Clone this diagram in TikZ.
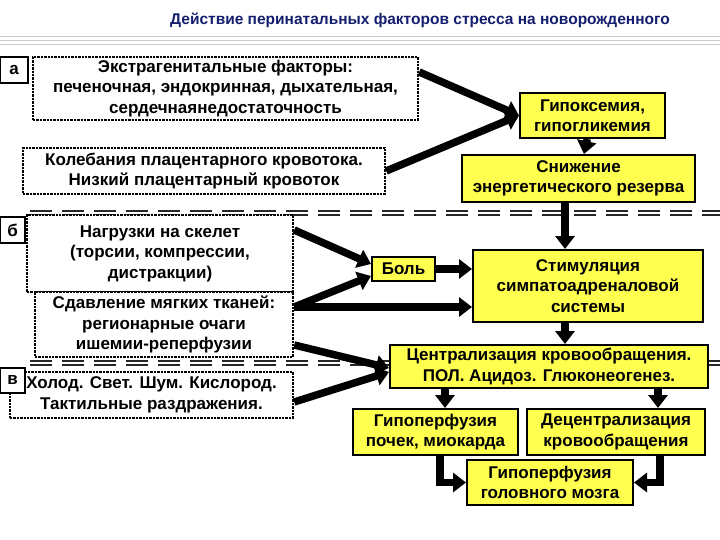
\documentclass[tikz,border=0pt]{standalone}
\usepackage{fontspec}
\setmainfont{Liberation Sans}
\usetikzlibrary{arrows.meta}
\definecolor{yel}{RGB}{255,255,80}
\definecolor{ttl}{RGB}{20,30,110}
\begin{document}
\begin{tikzpicture}[x=1pt,y=-1pt,
  fnt/.style={font=\bfseries\fontsize{17}{20.5}\selectfont},
  src/.style={draw,densely dotted,line width=2.4pt,fill=white,align=center,fnt,inner sep=0},
  res/.style={draw,line width=2pt,fill=yel,align=center,fnt,inner sep=0},
  lab/.style={draw,line width=1.6pt,fill=white,fnt,inner sep=0},
  arr/.style={line width=7.5pt,-{Triangle[length=13pt,width=19pt]}},
  sep/.style={double=white,double distance=2.5pt,line width=2pt,draw=black!85,dash pattern=on 22pt off 10pt}]
\useasboundingbox (0,0) rectangle (720,540);
\draw[gray!40,line width=0.8pt] (0,36)--(720,36) (0,40)--(720,40) (0,44)--(720,44);
\node[text=ttl,font=\bfseries\fontsize{15.5}{18}\selectfont] (t) at (420,20) {Действие перинатальных факторов стресса на новорожденного};
\draw[sep] (30,213)--(720,213);
\draw[sep] (30,363)--(720,363);
\node[src,minimum width=385,minimum height=63] (ex) at (225.5,88.5) {Экстрагенитальные факторы:\\печеночная, эндокринная, дыхательная,\\сердечнаянедостаточность};
\node[src,minimum width=362,minimum height=46] (kol) at (204,171) {Колебания плацентарного кровотока.\\Низкий плацентарный кровоток};
\node[src,minimum width=266,minimum height=77] (nag) at (160,253.5) {Нагрузки на скелет\\(торсии, компрессии,\\дистракции)};
\node[src,minimum width=258,minimum height=65] (sd) at (164,324.5) {Сдавление мягких тканей:\\регионарные очаги\\ишемии-реперфузии};
\node[src,minimum width=283,minimum height=46] (hol) at (151.5,395) {Холод. Свет. Шум. Кислород.\\Тактильные раздражения.};
\node[lab,minimum width=28,minimum height=26] (la) at (14,70) {а};
\node[lab,minimum width=25,minimum height=26] (lb) at (12.5,230) {б};
\node[lab,minimum width=25,minimum height=25] (lv) at (12.5,380.5) {в};
\node[res,minimum width=145,minimum height=45] (gip) at (592.5,115.5) {Гипоксемия,\\гипогликемия};
\node[res,minimum width=233,minimum height=47] (sn) at (578.5,178.5) {Снижение\\энергетического резерва};
\node[res,minimum width=63,minimum height=24] (bol) at (403.5,269) {Боль};
\node[res,minimum width=230,minimum height=72] (st) at (588,286) {Стимуляция\\симпатоадреналовой\\системы};
\node[res,minimum width=318,minimum height=43] (cen) at (549,366.5) {Централизация кровообращения.\\ПОЛ. Ацидоз. Глюконеогенез.};
\node[res,minimum width=165,minimum height=46] (pk) at (435.5,432) {Гипоперфузия\\почек, миокарда};
\node[res,minimum width=178,minimum height=46] (dc) at (616,432) {Децентрализация\\кровообращения};
\node[res,minimum width=166,minimum height=45] (gm) at (550,482.5) {Гипоперфузия\\головного мозга};
\draw[arr] (ex.east|-0,72) -- (gip.west);
\draw[arr] (kol.east) -- (gip.west);
\draw[arr] (gip) -- (sn);
\draw[arr] (sn.south-|565,0) -- (st.north-|565,0);
\draw[arr] (nag.east|-0,230) -- (bol.west|-0,264);
\draw[arr] (sd.east|-0,307) -- (bol.west|-0,276);
\draw[arr] (bol) -- (st.west|-0,269);
\draw[arr] (sd.east|-0,307) -- (st.west|-0,307);
\draw[arr] (st.south-|565,0) -- (cen.north-|565,0);
\draw[arr] (sd.east|-0,345) -- (cen.west|-0,368);
\draw[arr] (hol.east|-0,402) -- (cen.west|-0,372);
\draw[arr] (cen.south-|445,0) -- (pk.north-|445,0);
\draw[arr] (cen.south-|658,0) -- (dc.north-|658,0);
\draw[arr] (pk.south-|440,0) |- (gm.west);
\draw[arr] (dc.south-|660,0) |- (gm.east);
\end{tikzpicture}
\end{document}
